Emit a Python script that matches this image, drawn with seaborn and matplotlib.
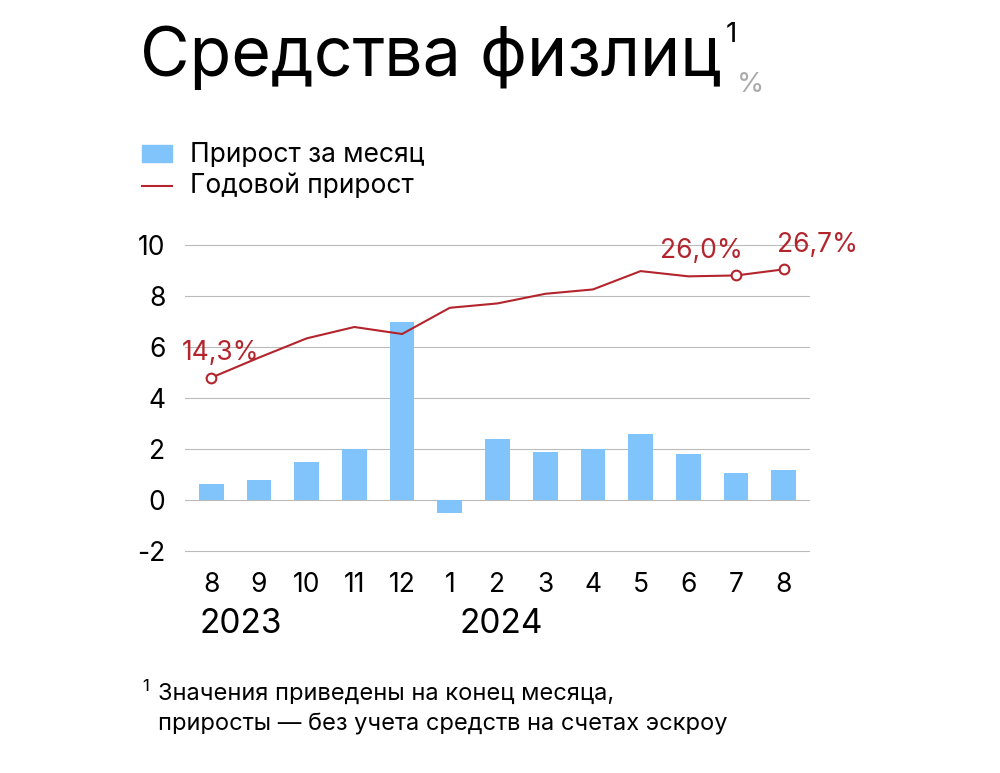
import matplotlib
matplotlib.use("Agg")
import matplotlib.pyplot as plt
import seaborn as sns
import pandas as pd

months = ["8", "9", "10", "11", "12", "1", "2", "3", "4", "5", "6", "7", "8"]
monthly_growth = [0.65, 0.8, 1.5, 2.0, 7.0, -0.5, 2.4, 1.9, 2.0, 2.6, 1.8, 1.05, 1.2]
annual_growth = [14.3, 16.6, 18.8, 20.1, 19.3, 22.3, 22.8, 23.9, 24.4, 26.5, 25.9, 26.0, 26.7]
labeled = {0: "14,3%", 11: "26,0%", 12: "26,7%"}
label_dx = {0: 0.2, 11: -0.72, 12: 0.7}

plt.rcParams["font.family"] = "Inter"
blue = "#80c4fb"
red = "#b3242c"

df = pd.DataFrame({"pos": range(len(months)), "monthly": monthly_growth, "annual": annual_growth})

fig = plt.figure(figsize=(10, 7.73), dpi=100)
ax = fig.add_axes([0.185, 0.285, 0.625, 0.4])
sns.barplot(data=df, x="pos", y="monthly", color=blue, width=0.52, ax=ax, saturation=1)
ax.set_ylim(-2.06, 10.06)
ax.set_yticks(range(-2, 11, 2))
ax.set_yticklabels(["-2", "0", "2", "4", "6", "8", "10"], fontsize=19)
ax.set_xticks(range(len(months)))
ax.set_xticklabels(months, fontsize=19)
ax.tick_params(length=0, pad=14)
ax.set_xlabel("")
ax.set_ylabel("")
ax.grid(axis="y", color="#bbbbbb", lw=0.8)
ax.set_axisbelow(True)
for s in ax.spines.values():
    s.set_visible(False)
ax.set_xlim(-0.55, 12.55)

ax2 = ax.twinx()
lo = 14.3 + (-2.06 - 4.8) * 2.92
hi = 14.3 + (10.06 - 4.8) * 2.92
ax2.set_ylim(lo, hi)
sns.lineplot(data=df, x="pos", y="annual", color=red, lw=1.5, ax=ax2)
for i, t in labeled.items():
    ax2.plot(i, annual_growth[i], "o", ms=7, mfc="white", mec=red, mew=1.5, clip_on=False)
    ax2.text(i + label_dx[i], annual_growth[i] + 1.3, t, color=red, fontsize=19, ha="center", va="bottom")
ax2.axis("off")

fig.text(0.14, 0.967, "Средства физлиц", fontsize=49, va="top")
fig.text(0.726, 0.955, "1", fontsize=20, va="center")
fig.text(0.737, 0.89, "%", fontsize=20, color="#aaaaaa", va="center")

fig.patches.append(plt.Rectangle((0.142, 0.79), 0.03, 0.022, color=blue, transform=fig.transFigure))
fig.text(0.19, 0.8, "Прирост за месяц", fontsize=19, va="center")
fig.lines.append(plt.Line2D([0.142, 0.172], [0.76, 0.76], color=red, lw=1.5, transform=fig.transFigure))
fig.text(0.19, 0.76, "Годовой прирост", fontsize=19, va="center")

fig.text(0.2, 0.193, "2023", fontsize=24, va="center")
fig.text(0.46, 0.193, "2024", fontsize=24, va="center")

fig.text(0.142, 0.112, "1", fontsize=12, va="center")
fig.text(0.158, 0.103, "Значения приведены на конец месяца,", fontsize=17, va="center")
fig.text(0.158, 0.063, "приросты — без учета средств на счетах эскроу", fontsize=17, va="center")

fig.savefig("out.png", dpi=100, facecolor="white")
